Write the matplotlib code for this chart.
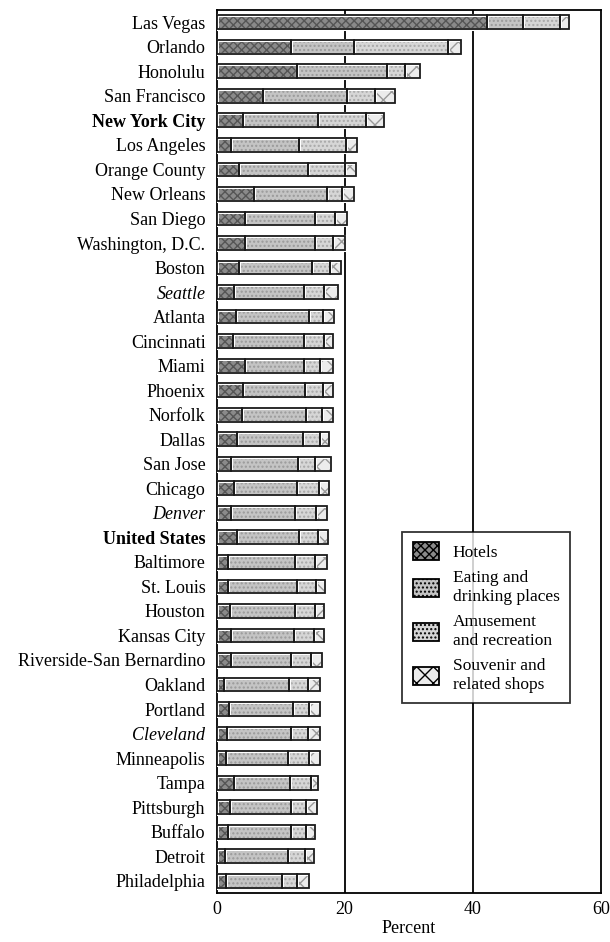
import matplotlib
matplotlib.use("Agg")
import matplotlib.pyplot as plt
from matplotlib.patches import Patch
import numpy as np

plt.rcParams['font.family'] = ['Liberation Serif', 'DejaVu Serif']

cities = ["Las Vegas", "Orlando", "Honolulu", "San Francisco", "New York City",
          "Los Angeles", "Orange County", "New Orleans", "San Diego", "Washington, D.C.",
          "Boston", "Seattle", "Atlanta", "Cincinnati", "Miami", "Phoenix", "Norfolk",
          "Dallas", "San Jose", "Chicago", "Denver", "United States", "Baltimore",
          "St. Louis", "Houston", "Kansas City", "Riverside-San Bernardino", "Oakland",
          "Portland", "Cleveland", "Minneapolis", "Tampa", "Pittsburgh", "Buffalo",
          "Detroit", "Philadelphia"]

# cumulative right edges
cum_hotels = [42.2, 11.6, 12.6, 7.3, 4.1, 2.2, 3.5, 5.9, 4.5, 4.5, 3.5, 2.8, 3.1, 2.5, 4.5, 4.1, 4.0,
              3.2, 2.3, 2.7, 2.3, 3.2, 1.8, 1.8, 2.1, 2.2, 2.3, 1.1, 1.9, 1.6, 1.5, 2.7, 2.1, 1.8,
              1.3, 1.4]
cum_eating = [47.9, 21.4, 26.6, 20.4, 15.8, 12.9, 14.3, 17.3, 15.4, 15.4, 14.9, 13.7, 14.4, 13.6, 13.6,
              13.8, 13.9, 13.5, 12.7, 12.6, 12.3, 12.9, 12.3, 12.5, 12.2, 12.1, 11.6, 11.3, 11.9,
              11.7, 11.2, 11.4, 11.7, 11.7, 11.1, 10.2]
cum_amuse = [53.6, 36.2, 29.5, 24.7, 23.3, 20.2, 20.0, 19.6, 18.5, 18.2, 17.7, 16.7, 16.6, 16.7, 16.2,
             16.6, 16.5, 16.1, 15.4, 16.0, 15.5, 15.8, 15.3, 15.5, 15.4, 15.2, 14.8, 14.3, 14.4,
             14.3, 14.4, 14.7, 13.9, 13.9, 13.8, 12.6]
cum_souv = [55.0, 38.2, 31.8, 27.9, 26.2, 21.9, 21.8, 21.4, 20.4, 20.1, 19.5, 18.9, 18.4, 18.2, 18.2,
            18.2, 18.2, 17.6, 17.8, 17.6, 17.3, 17.4, 17.2, 16.9, 16.7, 16.7, 16.4, 16.2, 16.2,
            16.1, 16.1, 15.8, 15.7, 15.4, 15.2, 14.5]

series_names = ["Hotels", "Eating and\ndrinking places", "Amusement\nand recreation",
                "Souvenir and\nrelated shops"]
colors = ["#8a8a8a", "#c4c4c4", "#d6d6d6", "#ececec"]
hatches = ["xxxx", "....", "....", "xx"]
hatch_cols = ["#555555", "#9a9a9a", "#a8a8a8", "#9a9a9a"]

hotels = np.array(cum_hotels)
eating = np.array(cum_eating) - hotels
amuse = np.array(cum_amuse) - np.array(cum_eating)
souv = np.array(cum_souv) - np.array(cum_amuse)
vals = [hotels, eating, amuse, souv]

FS = 13

fig = plt.figure(figsize=(6.10, 9.42), dpi=100)
ax = fig.add_axes([0.355, 0.052, 0.630, 0.9374])

y = np.arange(len(cities))
left = np.zeros(len(cities))
h = 0.56
for v, c, ht, hc in zip(vals, colors, hatches, hatch_cols):
    ax.barh(y, v, left=left, height=h, color=c, hatch=ht, edgecolor=hc, linewidth=0, zorder=3)
    ax.barh(y, v, left=left, height=h, fill=False, edgecolor='white', linewidth=2.2, zorder=4)
    ax.barh(y, v, left=left, height=h, fill=False, edgecolor='#1a1a1a', linewidth=1.3, zorder=5)
    left = left + v

ax.set_ylim(len(cities) - 0.5, -0.5)
ax.set_xlim(0, 60)
ax.set_yticks(y)
ax.set_yticklabels(cities, fontsize=FS)
for lbl in ax.get_yticklabels():
    t = lbl.get_text()
    if t in ("New York City", "United States"):
        lbl.set_fontweight('bold')
    if t in ("Seattle", "Denver", "Cleveland"):
        lbl.set_fontstyle('italic')
ax.set_xticks([0, 20, 40, 60])
ax.set_xticklabels(["0", "20", "40", "60"], fontsize=FS)
ax.tick_params(axis='x', length=0, pad=6)
ax.tick_params(axis='y', length=0, pad=8)
ax.set_xlabel("Percent", fontsize=FS, labelpad=1)
for x in (20, 40):
    ax.axvline(x, color='black', linewidth=1.3, zorder=1)
for s in ax.spines.values():
    s.set_linewidth(1.3)
    s.set_color('black')

handles = [Patch(facecolor=c, edgecolor='black', hatch=ht, linewidth=1.3)
           for c, ht in zip(colors, hatches)]
leg = ax.legend(handles, series_names, loc='lower left', bbox_to_anchor=(0.483, 0.215),
                fontsize=12.5, frameon=True, fancybox=False, edgecolor='black',
                handlelength=1.5, handleheight=1.2, labelspacing=0.55, borderpad=0.6,
                handletextpad=0.8, borderaxespad=0)
leg.get_frame().set_linewidth(1.3)
leg.set_zorder(10)

fig.savefig("out.png", dpi=100, facecolor='white')
